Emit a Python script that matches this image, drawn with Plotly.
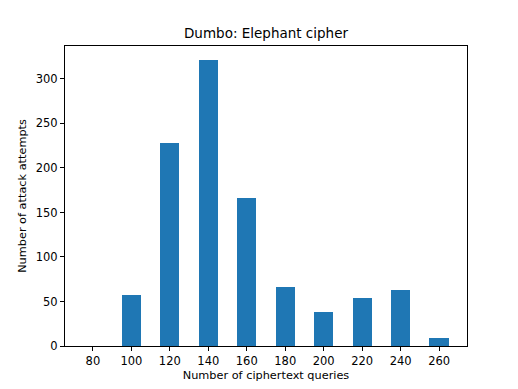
import plotly.graph_objects as go

queries = [80, 100, 120, 140, 160, 180, 200, 220, 240, 260]
attempts = [0, 57, 228, 321, 166, 66, 38, 54, 63, 9]
x_ticks = [80, 100, 120, 140, 160, 180, 200, 220, 240, 260]
y_ticks = [0, 50, 100, 150, 200, 250, 300]

fig = go.Figure(go.Bar(x=queries, y=attempts, width=10, marker=dict(color="#1f77b4", line=dict(width=0))))

# page body has an 8px margin, so the figure is drawn 8px smaller with adjusted margins
font = dict(family="DejaVu Sans", size=11, color="#262626")
fig.update_layout(
    width=510, height=381,
    margin=dict(l=57, r=51, t=38, b=43),
    paper_bgcolor="white", plot_bgcolor="white",
    font=font,
    title=dict(text="Dumbo: Elephant cipher", x=(57 + 459) / 2 / 510, xanchor="center", y=1 - 30/381, yanchor="bottom",
               font=dict(family="DejaVu Sans", size=13.5, color="black")),
    showlegend=False,
    bargap=0,
)
fig.update_xaxes(range=[65.5, 274.5], tickvals=x_ticks, ticks="outside", ticklen=4, tickcolor="black",
                 showline=True, linecolor="black", linewidth=1, mirror=True, showgrid=False, zeroline=False,
                 automargin=False,
                 title=dict(text="Number of ciphertext queries", standoff=4, font=dict(size=11.3, color="black")),
                 tickfont=dict(size=11.5, color="black"))
fig.update_yaxes(range=[0, 337], tickvals=y_ticks, ticks="outside", ticklen=4, tickcolor="black",
                 showline=True, linecolor="black", linewidth=1, mirror=True, showgrid=False, zeroline=False,
                 automargin=False,
                 title=dict(text="Number of attack attempts", standoff=6, font=dict(size=11.3, color="black")),
                 tickfont=dict(size=11.5, color="black"))
fig.write_html("out.html")
